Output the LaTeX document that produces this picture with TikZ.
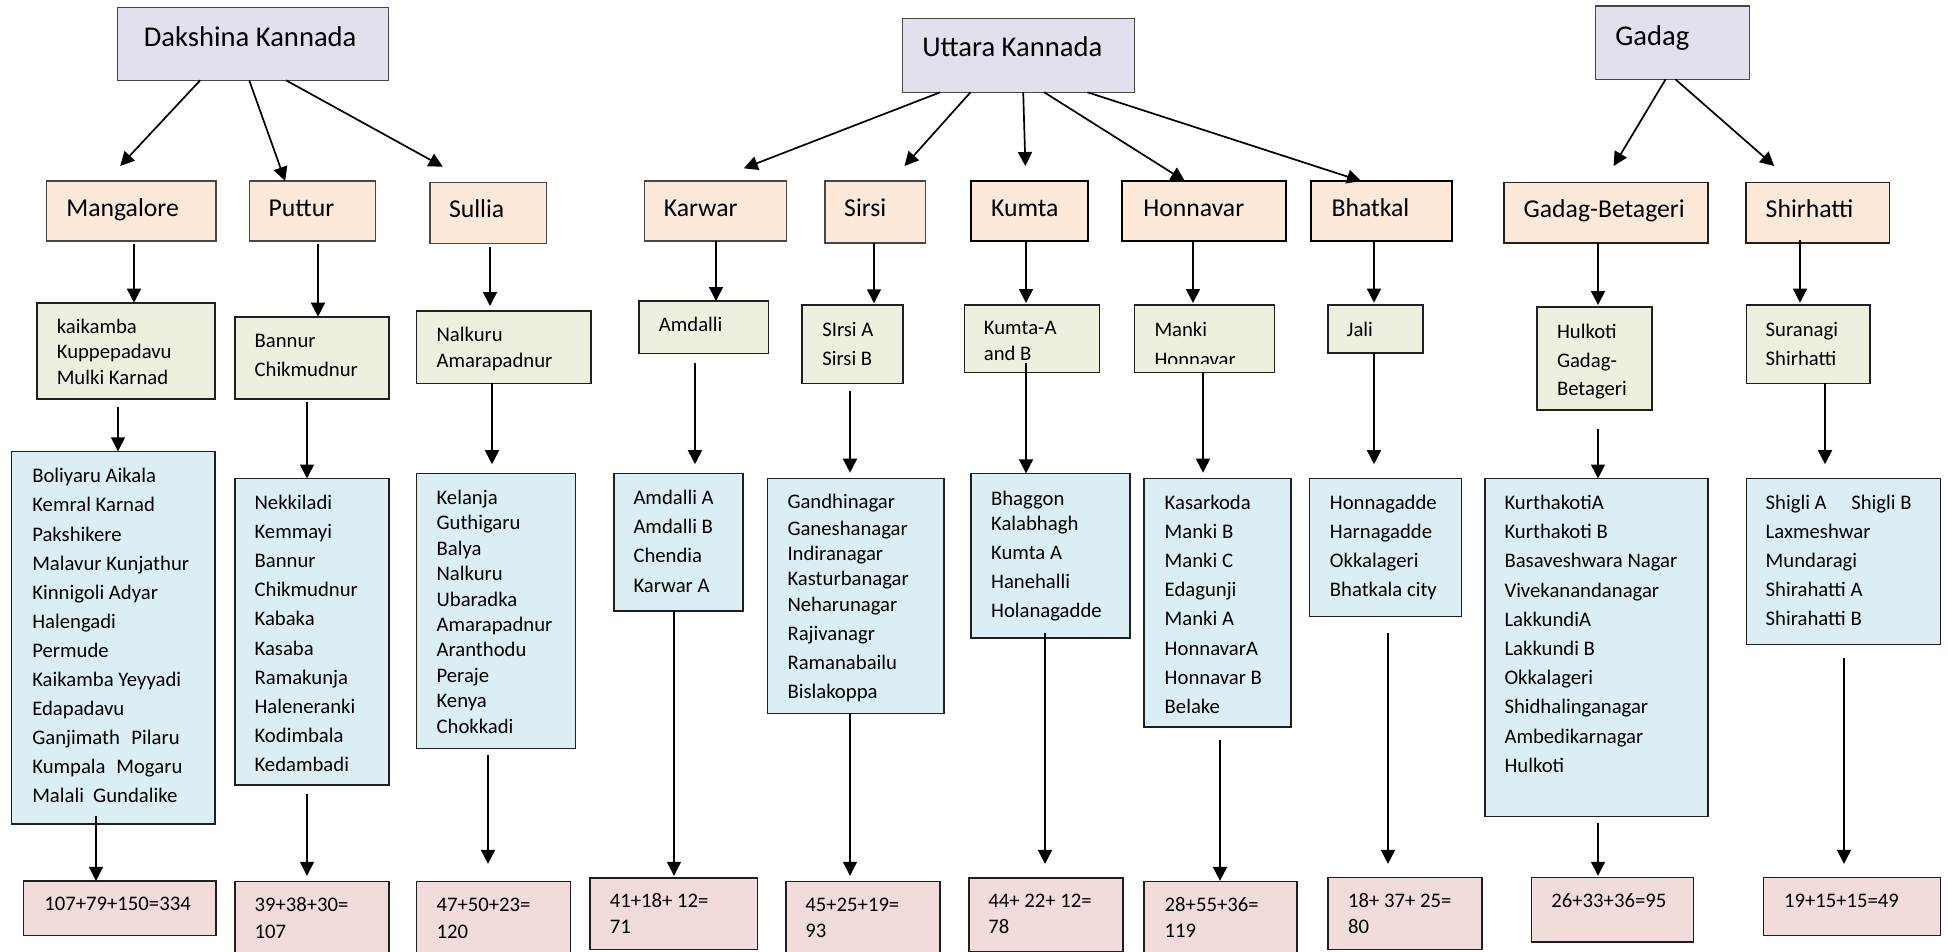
\documentclass[tikz,border=0pt]{standalone}
\usepackage{fontspec}
\setmainfont{Carlito}
\usetikzlibrary{arrows.meta,calc}

\definecolor{topfill}{HTML}{E4DFEC}
\definecolor{distfill}{HTML}{FDE9D9}
\definecolor{wardfill}{HTML}{EBF1DE}
\definecolor{listfill}{HTML}{DBEEF3}
\definecolor{sumfill}{HTML}{F2DCDB}

% rectangle from (x1,y1) to (x2,y2), pixel units, y downwards
\newcommand\rbox[6]{\node[box,#2,minimum width={(#5-#3)*0.5pt},minimum height={(#6-#4)*0.5pt}] (#1) at (#3,#4) {};}
% stacked lines with a given baseline distance (pt)
\newcommand\stack[2]{\fontsize{10.35pt}{#1pt}\selectfont\begin{tabular}[t]{@{}l@{}}#2\end{tabular}}
% vertical connector between two boxes at a given x
\newcommand\vconn[5]{\draw[arr,shorten <=#4,shorten >=#5] (#1.south -| #3,0) -- (#2.north -| #3,0);}

\begin{document}
\begin{tikzpicture}[x=0.5pt,y=-0.5pt,
  box/.style={anchor=north west, inner sep=0pt, outer sep=0pt},
  thinb/.style={draw=black!72, line width=0.55pt},
  thickb/.style={draw=black!88, line width=0.8pt},
  heavyb/.style={draw=black, line width=1pt},
  toptxt/.style={anchor=base west, inner sep=0pt, outer sep=0pt, font=\fontsize{14.3pt}{16pt}\selectfont},
  disttxt/.style={anchor=base west, inner sep=0pt, outer sep=0pt, font=\fontsize{12.85pt}{15pt}\selectfont},
  smalltxt/.style={anchor=base west, inner sep=0pt, outer sep=0pt, font=\fontsize{10.35pt}{14.25pt}\selectfont},
  arr/.style={line width=0.85pt, -{Triangle[length=7pt,width=7pt]}},
]
\useasboundingbox (0,0) rectangle (1948,952);
\clip (0,0) rectangle (1948,952);

% ---------- districts ----------
\rbox{dk}{thinb,fill=topfill}{117.3}{7.3}{388.5}{80.3}
\node[toptxt] (dkt) at (143.9,46.5) {Dakshina Kannada};
\rbox{uk}{thinb,fill=topfill}{902.7}{18.3}{1134.4}{92.3}
\node[toptxt] (ukt) at (922.3,57) {Uttara Kannada};
\rbox{gd}{thinb,fill=topfill}{1595.3}{6}{1749.5}{79.3}
\node[toptxt] (gdt) at (1615.3,45.5) {Gadag};

% ---------- towns ----------
\rbox{mang}{thinb,fill=distfill}{46.4}{181}{216}{241}
\node[disttxt] (mangt) at (66.3,216.2) {Mangalore};
\rbox{put}{thinb,fill=distfill}{249.2}{181}{375.6}{241}
\node[disttxt] (putt) at (268.7,216.2) {Puttur};
\rbox{sul}{thinb,fill=distfill}{430}{182.7}{546.8}{243.3}
\node[disttxt] (sult) at (449,217.9) {Sullia};
\rbox{kar}{thinb,fill=distfill}{644.2}{181}{786.6}{241}
\node[disttxt] (kart) at (663.8,216.2) {Karwar};
\rbox{sir}{thinb,fill=distfill}{825}{181}{925.9}{243}
\node[disttxt] (sirt) at (844.2,216.2) {Sirsi};
\rbox{kum}{heavyb,fill=distfill}{971}{181}{1088}{241}
\node[disttxt] (kumt) at (991.1,216.2) {Kumta};
\rbox{hon}{heavyb,fill=distfill}{1122.3}{181}{1286.2}{241}
\node[disttxt] (hont) at (1143.3,216.2) {Honnavar};
\rbox{bha}{heavyb,fill=distfill}{1311.1}{181}{1452.1}{241}
\node[disttxt] (bhat) at (1331.6,216.2) {Bhatkal};
\rbox{gb}{thickb,fill=distfill}{1503.7}{182.7}{1707.8}{243.3}
\node[disttxt] (gbt) at (1523.7,217.9) {Gadag-Betageri};
\rbox{shi}{thickb,fill=distfill}{1746.1}{182.7}{1889.3}{243.3}
\node[disttxt] (shit) at (1765.7,217.9) {Shirhatti};

% ---------- wards ----------
\rbox{g1}{thickb,fill=wardfill}{36.9}{302.7}{215.2}{398.7}
\node[smalltxt] (g1t) at (56.8,333.3) {\stack{12.7}{kaikamba\\Kuppepadavu\\Mulki Karnad}};
\rbox{g2}{thickb,fill=wardfill}{234.7}{316.7}{388.9}{398.7}
\node[smalltxt] (g2t) at (254.6,347.7) {\stack{14.15}{Bannur\\Chikmudnur}};
\rbox{g3}{thickb,fill=wardfill}{416.3}{311}{590.8}{383.3}
\node[smalltxt] (g3t) at (436.6,341.7) {\stack{12.8}{Nalkuru\\Amarapadnur}};
\rbox{g4}{thickb,fill=wardfill}{638.8}{301}{768.3}{353.3}
\node[smalltxt] (g4t) at (658.9,331.7) {Amdalli};
\rbox{g5}{thickb,fill=wardfill}{802.2}{305}{903.1}{383.3}
\node[smalltxt] (g5t) at (822.3,336) {\stack{14.5}{SIrsi A\\Sirsi B}};
\rbox{g6}{thickb,fill=wardfill}{964.3}{305}{1099.6}{372.3}
\node[smalltxt] (g6t) at (983.9,335) {\stack{13}{Kumta-A\\and B}};
\rbox{g7}{thickb,fill=wardfill}{1134.4}{305}{1274.6}{372.3}
\begin{scope}
  \clip (g7.north west) rectangle ([yshift=4.4pt]g7.south east);
  \node[smalltxt] (g7t) at (1154.5,336) {\stack{15}{Manki\\Honnavar}};
\end{scope}
\rbox{g8}{thickb,fill=wardfill}{1327.7}{305}{1422.7}{352.7}
\node[smalltxt] (g8t) at (1346.9,336) {Jali};
\rbox{g9}{thickb,fill=wardfill}{1536.9}{307}{1652}{410}
\node[smalltxt] (g9t) at (1557,338.3) {\stack{14.4}{Hulkoti\\Gadag-\\Betageri}};
\rbox{g10}{thickb,fill=wardfill}{1746.6}{305}{1870.1}{383.3}
\node[smalltxt] (g10t) at (1765.7,336) {\stack{14.5}{Suranagi\\Shirhatti}};

% ---------- ward lists ----------
\rbox{b1}{thickb,fill=listfill}{11.6}{451.3}{215.2}{823.7}
\node[smalltxt] (b1t) at (32.3,482.9) {\stack{14.53}{Boliyaru Aikala\\Kemral Karnad\\Pakshikere\\Malavur Kunjathur\\Kinnigoli Adyar\\Halengadi\\Permude\\Kaikamba Yeyyadi\\Edapadavu\\Ganjimath\hspace{5.8pt}Pilaru\\Kumpala\hspace{5.4pt}Mogaru\\Malali\hspace{4.6pt}Gundalike}};
\rbox{b2}{thickb,fill=listfill}{234.7}{478.5}{388.9}{785}
\node[smalltxt] (b2t) at (254.6,509.5) {\stack{14.55}{Nekkiladi\\Kemmayi\\Bannur\\Chikmudnur\\Kabaka\\Kasaba\\Ramakunja\\Haleneranki\\Kodimbala\\Kedambadi}};
\rbox{b3}{thickb,fill=listfill}{416.3}{473.4}{575.5}{748.6}
\node[smalltxt] (b3t) at (436.6,504.4) {\stack{12.7}{Kelanja\\Guthigaru\\Balya\\Nalkuru\\Ubaradka\\Amarapadnur\\Aranthodu\\Peraje\\Kenya\\Chokkadi}};
\rbox{b4}{thickb,fill=listfill}{613.8}{473.4}{742.9}{611.2}
\node[smalltxt] (b4t) at (633.5,504.4) {\stack{14.6}{Amdalli A\\Amdalli B\\Chendia\\Karwar A}};
\rbox{b5}{thickb,fill=listfill}{767.4}{478.5}{943.8}{713.5}
\node[smalltxt] (b5t) at (787.5,508.4) {\stack{14.55}{Gandhinagar\\[-1.25pt]Ganeshanagar\\[-2pt]Indiranagar\\[-2.1pt]Kasturbanagar\\[-1.45pt]Neharunagar\\Rajivanagr\\Ramanabailu\\Bislakoppa}};
\rbox{b6}{thickb,fill=listfill}{971}{473.4}{1129.9}{637.7}
\node[smalltxt] (b6t) at (991.1,505) {\stack{14.5}{Bhaggon\\[-1.75pt]Kalabhagh\\Kumta A\\Hanehalli\\Holanagadde}};
\rbox{b7}{thickb,fill=listfill}{1143.8}{478.5}{1291.1}{726.8}
\node[smalltxt] (b7t) at (1164.7,509.5) {\stack{14.55}{Kasarkoda\\Manki B\\Manki C\\Edagunji\\Manki A\\HonnavarA\\Honnavar B\\Belake}};
\rbox{b8}{thickb,fill=listfill}{1309.4}{478.5}{1461.5}{616.3}
\node[smalltxt] (b8t) at (1329.9,509.5) {\stack{14.45}{Honnagadde\\Harnagadde\\Okkalageri\\Bhatkala city}};
\rbox{b9}{thickb,fill=listfill}{1484.9}{478.5}{1707.8}{816.3}
\node[smalltxt] (b9t) at (1504.5,509.5) {\stack{14.6}{KurthakotiA\\Kurthakoti B\\Basaveshwara Nagar\\Vivekanandanagar\\LakkundiA\\Lakkundi B\\Okkalageri\\Shidhalinganagar\\Ambedikarnagar\\Hulkoti}};
\rbox{b10}{thickb,fill=listfill}{1746.6}{478.5}{1940.4}{644.5}
\node[smalltxt] (b10t) at (1765.7,509.5) {\stack{14.45}{Shigli A\hspace{12.3pt}Shigli B\\Laxmeshwar\\Mundaragi\\Shirahatti A\\Shirahatti B}};

% ---------- totals ----------
\rbox{p1}{thickb,fill=sumfill}{23.6}{880.9}{216}{935.3}
\node[smalltxt] (p1t) at (44.4,910) {107+79+150=334};
\rbox{p2}{thickb,fill=sumfill}{234.7}{881.6}{388.9}{965}
\node[smalltxt] (p2t) at (254.6,911.5) {\stack{13.5}{39+38+30=\\107}};
\rbox{p3}{thickb,fill=sumfill}{416.3}{881.6}{570.5}{965}
\node[smalltxt] (p3t) at (436.6,911.5) {\stack{13.5}{47+50+23=\\120}};
\rbox{p4}{thickb,fill=sumfill}{590}{878.2}{757.6}{949.6}
\node[smalltxt] (p4t) at (609.8,907.5) {\stack{13.1}{41+18+ 12=\\71}};
\rbox{p5}{thickb,fill=sumfill}{786.2}{881.6}{940.2}{965}
\node[smalltxt] (p5t) at (805.4,911) {\stack{13.1}{45+25+19=\\93}};
\rbox{p6}{thickb,fill=sumfill}{968.8}{878.2}{1122.8}{951.3}
\node[smalltxt] (p6t) at (988.4,907.5) {\stack{13.1}{44+ 22+ 12=\\78}};
\rbox{p7}{thickb,fill=sumfill}{1143.8}{881.6}{1297}{965}
\node[smalltxt] (p7t) at (1164.7,911.5) {\stack{13.1}{28+55+36=\\119}};
\rbox{p8}{thickb,fill=sumfill}{1327.7}{877.5}{1482}{949.6}
\node[smalltxt] (p8t) at (1348.2,907.5) {\stack{12.75}{18+ 37+ 25=\\80}};
\rbox{p9}{thickb,fill=sumfill}{1531.4}{877.5}{1693.3}{942.1}
\node[smalltxt] (p9t) at (1551.4,907.5) {26+33+36=95};
\rbox{p10}{thickb,fill=sumfill}{1763.6}{877.5}{1940.4}{935.3}
\node[smalltxt] (p10t) at (1784,907.5) {19+15+15=49};

% ---------- district to town connectors ----------
\coordinate (eMang) at (120.2,166);
\coordinate (eSul) at (442.8,166.7);
\coordinate (eKar) at (743.8,168.3);
\coordinate (eSir) at (904.5,166);
\coordinate (eKum) at (1025.4,166);
\coordinate (eGb) at (1613.6,166);
\coordinate (eShi) at (1774.3,166);
\draw[arr] ([xshift=-26.35pt]dk.south) -- (eMang);
\draw[arr] ([xshift=-1.85pt]dk.south) -- ([xshift=-13.6pt]put.north);
\draw[arr] ([xshift=16.55pt]dk.south) -- (eSul);
\draw[arr] ([xshift=-39.18pt]uk.south) -- (eKar);
\draw[arr] ([xshift=-24.03pt]uk.south) -- (eSir);
\draw[arr] ([xshift=2.33pt]uk.south) -- (eKum);
\draw[arr] ([xshift=12.83pt]uk.south) -- ([xshift=-9.7pt]hon.north);
\draw[arr] ([xshift=34.48pt]uk.south) -- ([xshift=-10.3pt]bha.north);
\draw[arr] ([xshift=-3.4pt]gd.south) -- (eGb);
\draw[arr] ([xshift=1.5pt]gd.south) -- (eShi);

% ---------- column connectors ----------
\vconn{mang}{g1}{134}{1.65pt}{0pt}
\vconn{g1}{b1}{118}{4.3pt}{0pt}
\vconn{b1}{p1}{96}{-4.05pt}{0pt}
\vconn{put}{g2}{318}{1.65pt}{0pt}
\vconn{g2}{b2}{307}{1.8pt}{0pt}
\vconn{b2}{p2}{307}{4.55pt}{2.9pt}
\vconn{sul}{g3}{490}{1.7pt}{2.5pt}
\vconn{g3}{b3}{492}{0pt}{4.6pt}
\vconn{b3}{p3}{488}{3.2pt}{8.85pt}
\vconn{kar}{g4}{716}{0pt}{0pt}
\vconn{g4}{b4}{695}{5pt}{4.6pt}
\vconn{b4}{p4}{674}{0pt}{1.2pt}
\vconn{sir}{g5}{874}{0pt}{0.85pt}
\vconn{g5}{b5}{850}{3.7pt}{2.9pt}
\vconn{b5}{p5}{850}{0pt}{2.9pt}
\vconn{kum}{g6}{1026}{0pt}{1pt}
\vconn{g6}{b6}{1026}{-4.5pt}{0pt}
\vconn{b6}{p6}{1045}{-2.55pt}{7.15pt}
\vconn{hon}{g7}{1193}{0pt}{1pt}
\vconn{g7}{b7}{1203}{0pt}{2.9pt}
\vconn{b7}{p7}{1220}{6.8pt}{0.35pt}
\vconn{bha}{g8}{1374}{0pt}{1.15pt}
\vconn{g8}{b8}{1374}{0pt}{7.15pt}
\vconn{b8}{p8}{1388}{8.15pt}{6.8pt}
\vconn{gb}{g9}{1598}{0pt}{1pt}
\vconn{g9}{b9}{1598}{9.25pt}{0pt}
\vconn{b9}{p9}{1598}{3.35pt}{0.85pt}
\vconn{shi}{g10}{1800}{-1.65pt}{1.15pt}
\vconn{g10}{b10}{1825}{0pt}{7.15pt}
\vconn{b10}{p10}{1844}{6.8pt}{6.8pt}
\end{tikzpicture}
\end{document}
